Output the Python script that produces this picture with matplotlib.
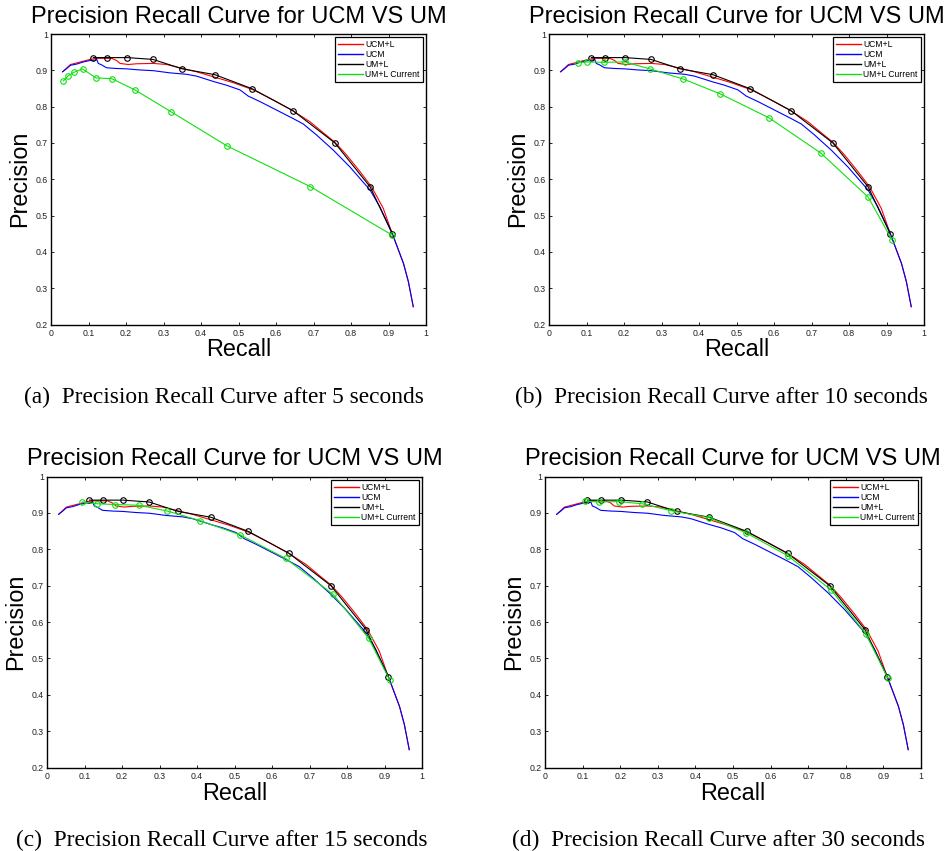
import matplotlib
matplotlib.use("Agg")
import matplotlib.pyplot as plt
from matplotlib.ticker import FormatStrFormatter
from matplotlib.lines import Line2D

plt.rcParams['font.family'] = ['Liberation Sans', 'DejaVu Sans']

# ---------------- data ----------------
# UCM+L (red) curve
ucml_recall = [0.031, 0.052, 0.086, 0.104, 0.122, 0.162, 0.175, 0.184, 0.206, 0.228,
               0.273, 0.308, 0.344, 0.388, 0.437, 0.486, 0.540, 0.593, 0.646, 0.691,
               0.726, 0.757, 0.788, 0.824, 0.855, 0.886, 0.910, 0.940, 0.953, 0.966]
ucml_precision = [0.896, 0.916, 0.925, 0.930, 0.933, 0.933, 0.927, 0.919, 0.916, 0.918,
                  0.919, 0.916, 0.907, 0.896, 0.881, 0.866, 0.846, 0.818, 0.788, 0.758,
                  0.728, 0.702, 0.667, 0.621, 0.579, 0.520, 0.450, 0.368, 0.318, 0.249]

# UCM (blue) curve
ucm_recall = [0.031, 0.042, 0.052, 0.068, 0.086, 0.104, 0.117, 0.122, 0.126, 0.135,
              0.148, 0.175, 0.202, 0.237, 0.273, 0.317, 0.362, 0.388, 0.437, 0.468,
              0.504, 0.526, 0.557, 0.593, 0.646, 0.673, 0.708, 0.753, 0.797, 0.824,
              0.851, 0.877, 0.910, 0.940, 0.953, 0.966]
ucm_precision = [0.896, 0.905, 0.914, 0.917, 0.923, 0.927, 0.928, 0.930, 0.919, 0.915,
                 0.907, 0.905, 0.904, 0.901, 0.899, 0.893, 0.889, 0.884, 0.868, 0.859,
                 0.846, 0.829, 0.814, 0.795, 0.767, 0.752, 0.722, 0.680, 0.634, 0.602,
                 0.570, 0.524, 0.451, 0.368, 0.318, 0.249]

# UM+L (black) curve
uml_recall = [0.113, 0.150, 0.203, 0.272, 0.350, 0.437, 0.537, 0.645, 0.757, 0.851, 0.910]
uml_precision = [0.935, 0.935, 0.935, 0.930, 0.904, 0.888, 0.849, 0.789, 0.700, 0.579, 0.450]

# UM+L Current (green) curves, one per time budget
cur_5s_recall = [0.033, 0.046, 0.060, 0.084, 0.120, 0.162, 0.224, 0.320, 0.469, 0.691, 0.910]
cur_5s_precision = [0.871, 0.885, 0.894, 0.904, 0.879, 0.877, 0.846, 0.786, 0.692, 0.580, 0.446]

cur_10s_recall = [0.076, 0.102, 0.146, 0.202, 0.269, 0.358, 0.457, 0.587, 0.725, 0.851, 0.914]
cur_10s_precision = [0.921, 0.923, 0.922, 0.923, 0.904, 0.876, 0.835, 0.769, 0.672, 0.551, 0.434]

cur_15s_recall = [0.094, 0.134, 0.180, 0.245, 0.321, 0.407, 0.514, 0.636, 0.763, 0.858, 0.914]
cur_15s_precision = [0.930, 0.925, 0.923, 0.921, 0.905, 0.879, 0.840, 0.775, 0.676, 0.555, 0.440]

cur_30s_recall = [0.107, 0.144, 0.196, 0.259, 0.335, 0.436, 0.535, 0.646, 0.761, 0.853, 0.911]
cur_30s_precision = [0.932, 0.930, 0.931, 0.925, 0.906, 0.887, 0.845, 0.782, 0.688, 0.568, 0.447]

series_labels = ['UCM+L', 'UCM', 'UM+L', 'UM+L Current']
chart_title = 'Precision Recall Curve for UCM VS UM'
captions = ['(a)  Precision Recall Curve after 5 seconds',
            '(b)  Precision Recall Curve after 10 seconds',
            '(c)  Precision Recall Curve after 15 seconds',
            '(d)  Precision Recall Curve after 30 seconds']
x_ticks = [0, 0.1, 0.2, 0.3, 0.4, 0.5, 0.6, 0.7, 0.8, 0.9, 1]
y_ticks = [0.2, 0.3, 0.4, 0.5, 0.6, 0.7, 0.8, 0.9, 1]

current_sets = [(cur_5s_recall, cur_5s_precision),
                (cur_10s_recall, cur_10s_precision),
                (cur_15s_recall, cur_15s_precision),
                (cur_30s_recall, cur_30s_precision)]

# ---------------- layout ----------------
W, H = 948, 851
fig = plt.figure(figsize=(W / 100, H / 100), dpi=100)
fig.patch.set_facecolor('white')


def rect(l, r, t, b):
    return [l / W, 1 - b / H, (r - l) / W, (b - t) / H]


axes_px = [(51, 426, 34, 324.5), (549, 924, 34, 324.5),
           (47, 422, 476.5, 767.5), (545, 921, 476.5, 767.5)]
caption_pos = [(224, 403.5), (721, 403.5), (222, 846), (718, 846)]

RED, BLUE, BLACK, GREEN = '#ff0000', '#0000ff', '#000000', '#10e010'
series_colors = [RED, BLUE, BLACK, GREEN]

for i, (px, (cr, cp)) in enumerate(zip(axes_px, current_sets)):
    ax = fig.add_axes(rect(*px))
    ax.plot(ucml_recall, ucml_precision, color=RED, lw=0.8)
    ax.plot(ucm_recall, ucm_precision, color=BLUE, lw=0.8)
    ax.plot(uml_recall, uml_precision, color=BLACK, lw=0.8, marker='o',
            markersize=4, markerfacecolor='none', markeredgewidth=0.8)
    ax.plot(cr, cp, color=GREEN, lw=0.8, marker='o', markersize=4,
            markerfacecolor='none', markeredgewidth=0.8)

    ax.set_xlim(0, 1)
    ax.set_ylim(0.2, 1)
    ax.set_xticks(x_ticks)
    ax.set_yticks(y_ticks)
    ax.xaxis.set_major_formatter(FormatStrFormatter('%g'))
    ax.yaxis.set_major_formatter(FormatStrFormatter('%g'))
    ax.tick_params(direction='in', length=2.2, width=0.6, top=True, right=True,
                   labelsize=6.3, labelcolor='#222222')
    ax.tick_params(axis='x', pad=3.0)
    ax.tick_params(axis='y', pad=2.0)
    for s in ax.spines.values():
        s.set_linewidth(1.0)

    ax.set_title(chart_title, fontsize=17, pad=8)

    ax.set_xlabel('Recall', fontsize=16.8)
    ax.xaxis.label.set_va('baseline')
    ax.xaxis.set_label_coords(0.5, -0.110)
    ax.set_ylabel('Precision', fontsize=16.8)
    ax.yaxis.label.set_rotation_mode('anchor')
    ax.yaxis.label.set_va('baseline')
    ax.yaxis.label.set_ha('center')
    ax.yaxis.set_label_coords(-0.066, 0.5)

    handles = [Line2D([], [], color=c, lw=1.0) for c in series_colors]
    leg = ax.legend(handles, series_labels, loc='upper right', fontsize=6.2,
                    frameon=True, fancybox=False, edgecolor='black', framealpha=1,
                    borderaxespad=0.4, handlelength=2.9, handletextpad=0.25,
                    borderpad=0.35, labelspacing=0.1)
    leg.get_frame().set_linewidth(0.9)

    cx, cy = caption_pos[i]
    fig.text(cx / W, 1 - cy / H, captions[i], ha='center', va='baseline',
             fontsize=16.8, family=['Liberation Serif', 'DejaVu Serif'])

fig.savefig('out.png', dpi=100)
